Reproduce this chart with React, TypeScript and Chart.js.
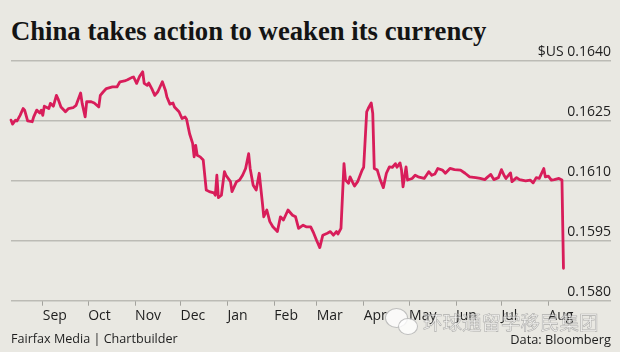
import React, { useEffect, useRef } from "react";
import { Chart, registerables } from "chart.js";

Chart.register(...registerables);

// ---- data ----
const START_DATE = "2014-08-11";

const dates: string[] = [
  "2014-08-11", "2014-08-12", "2014-08-14", "2014-08-15", "2014-08-17", "2014-08-19", "2014-08-20",
  "2014-08-22", "2014-08-25", "2014-08-26", "2014-08-28", "2014-08-30", "2014-08-31",
  "2014-09-01", "2014-09-02", "2014-09-05", "2014-09-06", "2014-09-08", "2014-09-10", "2014-09-11",
  "2014-09-13", "2014-09-16", "2014-09-18", "2014-09-21", "2014-09-23", "2014-09-26", "2014-09-27",
  "2014-09-29", "2014-09-30",
  "2014-10-03", "2014-10-05", "2014-10-08", "2014-10-09", "2014-10-11", "2014-10-13", "2014-10-17",
  "2014-10-20", "2014-10-22", "2014-10-25", "2014-10-27", "2014-10-30", "2014-10-31",
  "2014-11-02", "2014-11-04", "2014-11-06", "2014-11-07", "2014-11-09", "2014-11-10", "2014-11-12",
  "2014-11-14", "2014-11-16", "2014-11-19", "2014-11-21", "2014-11-22", "2014-11-24", "2014-11-26",
  "2014-11-27", "2014-11-30",
  "2014-12-02", "2014-12-04", "2014-12-05", "2014-12-07", "2014-12-09", "2014-12-10", "2014-12-11",
  "2014-12-12", "2014-12-14", "2014-12-16", "2014-12-18", "2014-12-20", "2014-12-23", "2014-12-24",
  "2014-12-25", "2014-12-26", "2014-12-28", "2014-12-30", "2014-12-31",
  "2015-01-03", "2015-01-04", "2015-01-07", "2015-01-09", "2015-01-11", "2015-01-13", "2015-01-15",
  "2015-01-16", "2015-01-18", "2015-01-20", "2015-01-22", "2015-01-24", "2015-01-25", "2015-01-27",
  "2015-01-29", "2015-01-31",
  "2015-02-03", "2015-02-05", "2015-02-07", "2015-02-10", "2015-02-13", "2015-02-15", "2015-02-17",
  "2015-02-20", "2015-02-22", "2015-02-25", "2015-02-27",
  "2015-03-01", "2015-03-03", "2015-03-05", "2015-03-08", "2015-03-10", "2015-03-12", "2015-03-14",
  "2015-03-15", "2015-03-17", "2015-03-19", "2015-03-20", "2015-03-22", "2015-03-23", "2015-03-25",
  "2015-03-26", "2015-03-28", "2015-03-31",
  "2015-04-01", "2015-04-03", "2015-04-04", "2015-04-06", "2015-04-07", "2015-04-08", "2015-04-10",
  "2015-04-12", "2015-04-14", "2015-04-16", "2015-04-18", "2015-04-20", "2015-04-22", "2015-04-23",
  "2015-04-25", "2015-04-26", "2015-04-27", "2015-04-29", "2015-04-30",
  "2015-05-03", "2015-05-05", "2015-05-07", "2015-05-09", "2015-05-11", "2015-05-14", "2015-05-16",
  "2015-05-18", "2015-05-20", "2015-05-23", "2015-05-25", "2015-05-28", "2015-05-31",
  "2015-06-04", "2015-06-07", "2015-06-10", "2015-06-14", "2015-06-17", "2015-06-20", "2015-06-22",
  "2015-06-24", "2015-06-26", "2015-06-29",
  "2015-07-01", "2015-07-03", "2015-07-04", "2015-07-07", "2015-07-08", "2015-07-11", "2015-07-13",
  "2015-07-17", "2015-07-20", "2015-07-22", "2015-07-24", "2015-07-26", "2015-07-29", "2015-07-30",
  "2015-08-01", "2015-08-03", "2015-08-05", "2015-08-08", "2015-08-10", "2015-08-11",
];

const rates: number[] = [
  0.16252, 0.16242, 0.16252, 0.1625, 0.16264, 0.16281, 0.16277,
  0.1625, 0.16248, 0.1626, 0.16277, 0.1627, 0.16277,
  0.16264, 0.16287, 0.16281, 0.16294, 0.16287, 0.16314, 0.16306,
  0.16285, 0.16273, 0.16281, 0.16283, 0.16289, 0.1632, 0.16294,
  0.1626, 0.16298,
  0.16298, 0.16295, 0.16285, 0.16314, 0.16323, 0.16331, 0.16335,
  0.16335, 0.16348, 0.1635, 0.16353, 0.16359, 0.1636,
  0.16344, 0.16362, 0.16373, 0.16344, 0.16339, 0.16345, 0.16331,
  0.16314, 0.16323, 0.16348, 0.16327, 0.1631, 0.16292, 0.16295,
  0.16285, 0.16273,
  0.16256, 0.1626, 0.16254, 0.16218, 0.16194, 0.1616, 0.16189,
  0.16164, 0.1616, 0.16152, 0.16077, 0.16073, 0.1607, 0.16064,
  0.16114, 0.16058, 0.16064, 0.16123, 0.16114,
  0.16098, 0.16073, 0.16098, 0.16102, 0.16114, 0.16131, 0.16168,
  0.16131, 0.16089, 0.16077, 0.16119, 0.16048, 0.1601, 0.16027,
  0.15998, 0.15985,
  0.15973, 0.1601, 0.16002, 0.16027, 0.16014, 0.1601, 0.15981,
  0.15989, 0.15985, 0.15985, 0.15969,
  0.1595, 0.15933, 0.15964, 0.15969, 0.15973, 0.15964, 0.15973,
  0.15967, 0.15981, 0.16143, 0.16102, 0.16094, 0.1611, 0.16094,
  0.16087, 0.16098, 0.16127,
  0.16134, 0.16273, 0.16281, 0.16295, 0.16269, 0.16131, 0.16127,
  0.16102, 0.16083, 0.16119, 0.16135, 0.16134, 0.16143, 0.16134,
  0.16145, 0.16127, 0.16085, 0.16135, 0.16102,
  0.16106, 0.16114, 0.1611, 0.16108, 0.16106, 0.16123, 0.16114,
  0.16117, 0.16131, 0.16127, 0.16119, 0.16131, 0.16128,
  0.16127, 0.16119, 0.1611, 0.16108, 0.16106, 0.16103, 0.1611,
  0.16116, 0.16103, 0.16108,
  0.16128, 0.16112, 0.16106, 0.1612, 0.16098, 0.16108, 0.16103,
  0.161, 0.16102, 0.16095, 0.16108, 0.16106, 0.16131, 0.1611,
  0.16112, 0.16102, 0.16103, 0.16106, 0.16102, 0.15881,
];

const monthStarts: string[] = [
  "2014-09-01", "2014-10-01", "2014-11-01", "2014-12-01", "2015-01-01", "2015-02-01",
  "2015-03-01", "2015-04-01", "2015-05-01", "2015-06-01", "2015-07-01", "2015-08-01",
];
const monthLabels: string[] = ["Sep", "Oct", "Nov", "Dec", "Jan", "Feb", "Mar", "Apr", "May", "Jun", "Jul", "Aug"];

const yTicks: number[] = [0.158, 0.1595, 0.161, 0.1625, 0.164];
const yUnitPrefix = "$US ";
const X_END_DAYS = 396.4;

const TITLE = "China takes action to weaken its currency";
const SOURCE_LEFT = "Fairfax Media | Chartbuilder";
const SOURCE_RIGHT = "Data: Bloomberg";
const WATERMARK = "环球通留学移民集团";

function dayIndex(s: string): number {
  const [y, m, d] = s.split("-").map(Number);
  const [y0, m0, d0] = START_DATE.split("-").map(Number);
  return (Date.UTC(y, m - 1, d) - Date.UTC(y0, m0 - 1, d0)) / 86400000;
}

const BG = "#e9e8e2";
const LABEL_FONT = "'Open Sans', 'Noto Sans', sans-serif";

export default function App() {
  const canvasRef = useRef<HTMLCanvasElement | null>(null);

  useEffect(() => {
    document.body.style.margin = "0";
    const canvas = canvasRef.current;
    if (!canvas) return;
    const points = dates.map((d, i) => ({ x: dayIndex(d), y: rates[i] }));
    const chart = new Chart(canvas, {
      type: "line",
      data: {
        datasets: [
          {
            data: points,
            borderColor: "#d81d5a",
            borderWidth: 2.8,
            pointRadius: 0,
            tension: 0,
            borderJoinStyle: "round",
            borderCapStyle: "round",
            clip: false as any,
          },
        ],
      },
      options: {
        animation: false,
        responsive: false,
        maintainAspectRatio: false,
        layout: { padding: { left: 11, right: 9, top: 61, bottom: 25.5 } },
        plugins: {
          legend: { display: false },
          tooltip: { enabled: false },
          title: { display: false },
        },
        scales: {
          x: {
            type: "linear",
            min: 0,
            max: X_END_DAYS,
            afterBuildTicks: (scale: any) => {
              scale.ticks = monthStarts.map((m) => ({ value: dayIndex(m) }));
            },
            ticks: {
              align: "start",
              autoSkip: false,
              maxRotation: 0,
              padding: 2,
              color: "#1e1e1e",
              font: { family: LABEL_FONT, size: 14 },
              callback: (_v: any, i: number) => monthLabels[i],
            },
            grid: {
              drawOnChartArea: false,
              drawTicks: true,
              tickLength: 5,
              color: "#a3a29d",
              lineWidth: 1,
            },
            border: { display: false },
          },
          y: {
            position: "right",
            min: 0.158,
            max: 0.164,
            afterBuildTicks: (scale: any) => {
              scale.ticks = yTicks.map((v) => ({ value: v }));
            },
            ticks: {
              mirror: true,
              padding: 0,
              labelOffset: -8.5,
              crossAlign: "near",
              color: "#1e1e1e",
              font: { family: LABEL_FONT, size: 14 },
              callback: (v: any, i: number, ticks: any[]) =>
                (i === ticks.length - 1 ? yUnitPrefix : "") + Number(v).toFixed(4),
            },
            grid: {
              drawTicks: false,
              color: "#bcbbb5",
              lineWidth: 1.5,
            },
            border: { display: false },
          },
        },
      } as any,
    });
    return () => chart.destroy();
  }, []);

  return (
    <div
      style={{
        position: "fixed",
        left: 0,
        top: 0,
        width: 620,
        height: 352,
        background: BG,
        overflow: "hidden",
      }}
    >
      <div
        style={{
          position: "absolute",
          left: 11,
          top: 18,
          fontFamily: "'Liberation Serif', 'Times New Roman', serif",
          fontWeight: 700,
          fontSize: 26.7,
          lineHeight: "26px",
          color: "#141414",
          whiteSpace: "nowrap",
        }}
      >
        {TITLE}
      </div>
      <canvas
        ref={canvasRef}
        width={620}
        height={352}
        style={{ position: "absolute", left: 0, top: 0, display: "block" }}
      />
      <div
        style={{
          position: "absolute",
          left: 11,
          top: 331,
          fontFamily: LABEL_FONT,
          fontSize: 12.6,
          lineHeight: "16px",
          color: "#1e1e1e",
          whiteSpace: "nowrap",
        }}
      >
        {SOURCE_LEFT}
      </div>
      <div
        style={{
          position: "absolute",
          right: 9,
          top: 331,
          fontFamily: LABEL_FONT,
          fontSize: 12.8,
          lineHeight: "16px",
          color: "#1e1e1e",
          whiteSpace: "nowrap",
        }}
      >
        {SOURCE_RIGHT}
      </div>
      {/* watermark */}
      <div
        style={{
          position: "absolute",
          left: 385,
          top: 308,
          width: 21,
          height: 18,
          borderRadius: "50%",
          background: "rgba(255,255,255,0.75)",
          border: "1px solid rgba(150,150,150,0.6)",
        }}
      />
      <div
        style={{
          position: "absolute",
          left: 398,
          top: 318,
          width: 18,
          height: 15,
          borderRadius: "50%",
          background: "rgba(255,255,255,0.8)",
          border: "1px solid rgba(150,150,150,0.6)",
        }}
      />
      <div
        style={{
          position: "absolute",
          left: 423,
          top: 309,
          fontFamily: "'Noto Sans CJK SC', sans-serif",
          fontSize: 19.5,
          lineHeight: "26px",
          color: "rgba(255,255,255,0.55)",
          WebkitTextStroke: "0.6px rgba(120,120,120,0.55)",
          whiteSpace: "nowrap",
          letterSpacing: 0,
        }}
      >
        {WATERMARK}
      </div>
    </div>
  );
}
